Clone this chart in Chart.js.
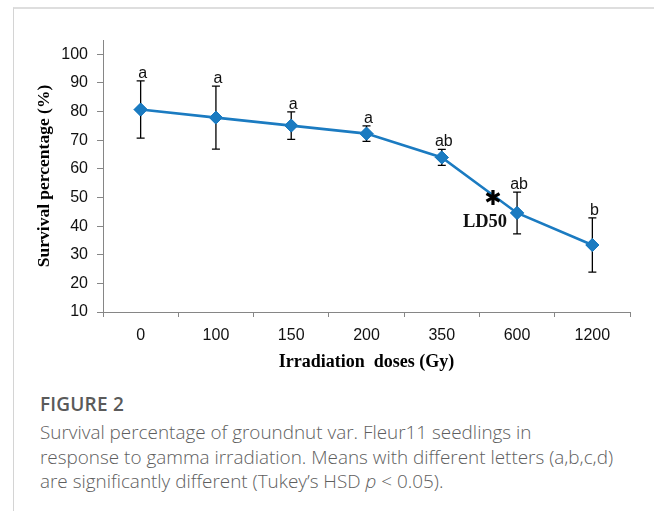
<!DOCTYPE html>
<html>
<head>
<meta charset="utf-8">
<script src="https://cdn.jsdelivr.net/npm/chart.js@4.4.1/dist/chart.umd.min.js"></script>
<style>
  html, body { margin: 0; padding: 0; background: #fff; width: 654px; height: 511px; overflow: hidden; }
  #frame { position: absolute; left: 13px; top: 7px; width: 800px; height: 600px;
           border-left: 1px solid #d4d4d4; border-top: 2px solid #dedede; }
  #wrap { position: absolute; left: 0; top: 0; width: 654px; height: 385px; }
  #cap { position: absolute; left: 40px; top: 392px; width: 620px;
         font-family: "Open Sans", sans-serif; color: #666; }
  #cap .fig { font-size: 19px; font-weight: 600; color: #5a5a5a; line-height: 24px; letter-spacing: 0.2px; }
  #cap .txt { font-size: 18.9px; line-height: 24.5px; margin-top: 4px; font-weight: 300; color: #5e5e5e; white-space: nowrap; }
</style>
</head>
<body>
<div id="frame"></div>
<div id="wrap"><canvas id="c" width="654" height="385"></canvas></div>
<div id="cap">
  <div class="fig">FIGURE 2</div>
  <div class="txt">Survival percentage of groundnut var. Fleur11 seedlings in<br>response to gamma irradiation. Means with different letters (a,b,c,d)<br>are significantly different (Tukey’s HSD <i>p</i> &lt; 0.05).</div>
</div>
<script>
// ---- data ----
const doses = ["0", "100", "150", "200", "350", "600", "1200"];
const survival = [80.7, 77.9, 75.1, 72.3, 64.0, 44.6, 33.4];
const errors = [10.0, 11.0, 4.8, 2.7, 2.8, 7.3, 9.5];
const letters = ["a", "a", "a", "a", "ab", "ab", "b"];
const ld50Position = 4.68;   // category index between 350 and 600 Gy
const ld50Value = 50;
const ld50Label = "LD50";
const yTicks = [10, 20, 30, 40, 50, 60, 70, 80, 90, 100];

const lineColor = "#1b7bc1";

const annotate = {
  id: "annotate",
  afterDatasetsDraw(chart) {
    const ctx = chart.ctx;
    const xs = chart.scales.x, ys = chart.scales.y;
    ctx.save();
    // error bars
    ctx.strokeStyle = "#000";
    ctx.lineWidth = 1.3;
    survival.forEach((v, i) => {
      const x = xs.getPixelForValue(i);
      const yt = ys.getPixelForValue(v + errors[i]);
      const yb = ys.getPixelForValue(v - errors[i]);
      ctx.beginPath();
      ctx.moveTo(x, yt); ctx.lineTo(x, yb);
      ctx.moveTo(x - 4, yt); ctx.lineTo(x + 4, yt);
      ctx.moveTo(x - 4, yb); ctx.lineTo(x + 4, yb);
      ctx.stroke();
    });
    // redraw markers on top of error bars
    const meta = chart.getDatasetMeta(0);
    meta.data.forEach(p => p.draw(ctx, chart.chartArea));
    // letters
    ctx.fillStyle = "#111";
    ctx.font = "16px 'Liberation Sans', sans-serif";
    ctx.textAlign = "center";
    ctx.textBaseline = "alphabetic";
    survival.forEach((v, i) => {
      const x = xs.getPixelForValue(i);
      const yt = ys.getPixelForValue(v + errors[i]);
      ctx.fillText(letters[i], x + 2, yt - 3);
    });
    // LD50 asterisk
    const ax = xs.getPixelForValue(ld50Position);
    const ay = ys.getPixelForValue(ld50Value);
    ctx.strokeStyle = "#000";
    ctx.lineWidth = 3.2;
    const r = 7.5;
    for (let k = 0; k < 3; k++) {
      const a = Math.PI / 2 + k * Math.PI / 3;
      ctx.beginPath();
      ctx.moveTo(ax - r * Math.cos(a), ay - r * Math.sin(a));
      ctx.lineTo(ax + r * Math.cos(a), ay + r * Math.sin(a));
      ctx.stroke();
    }
    ctx.font = "bold 18.5px 'Liberation Serif', serif";
    ctx.textBaseline = "middle";
    ctx.fillText(ld50Label, ax - 8, ay + 25);
    ctx.restore();
  }
};

new Chart(document.getElementById("c"), {
  type: "line",
  data: {
    labels: doses,
    datasets: [{
      data: survival,
      borderColor: lineColor,
      backgroundColor: lineColor,
      borderWidth: 2.6,
      pointStyle: "rectRot",
      pointRadius: 6.5,
      pointHoverRadius: 6.5,
      pointBackgroundColor: lineColor,
      pointBorderColor: lineColor,
      pointBorderWidth: 1,
      tension: 0,
      fill: false
    }]
  },
  options: {
    responsive: false,
    animation: false,
    events: [],
    layout: { padding: { left: 0, right: 24, top: 40, bottom: 0 } },
    plugins: { legend: { display: false }, tooltip: { enabled: false } },
    scales: {
      x: {
        type: "category",
        offset: true,
        grid: { offset: true, drawOnChartArea: false, drawTicks: true, tickLength: 5, color: "#868686", lineWidth: 1 },
        border: { display: true, color: "#868686", width: 1 },
        ticks: { color: "#111", font: { family: "'Liberation Sans', sans-serif", size: 16 }, padding: 9, maxRotation: 0, autoSkip: false },
        title: { display: true, text: "Irradiation  doses (Gy)", color: "#000",
                 font: { family: "'Liberation Serif', serif", size: 18, weight: "bold" },
                 padding: { top: 0, bottom: 12 } },
        afterFit(scale) { scale.height = 73; }
      },
      y: {
        min: 10,
        max: 105,
        afterBuildTicks(scale) { scale.ticks = yTicks.map(v => ({ value: v })); },
        grid: { drawOnChartArea: false, drawTicks: true, tickLength: 6, color: "#868686", lineWidth: 1 },
        border: { display: true, color: "#868686", width: 1 },
        ticks: { color: "#111", font: { family: "'Liberation Sans', sans-serif", size: 16 }, padding: 9 },
        title: { display: true, text: "Survival percentage (%)", color: "#000",
                 font: { family: "'Liberation Serif', serif", size: 17.5, weight: "bold" },
                 padding: { top: 34, bottom: 0 } },
        afterFit(scale) { scale.width = 103; }
      }
    }
  },
  plugins: [annotate]
});
</script>
</body>
</html>
